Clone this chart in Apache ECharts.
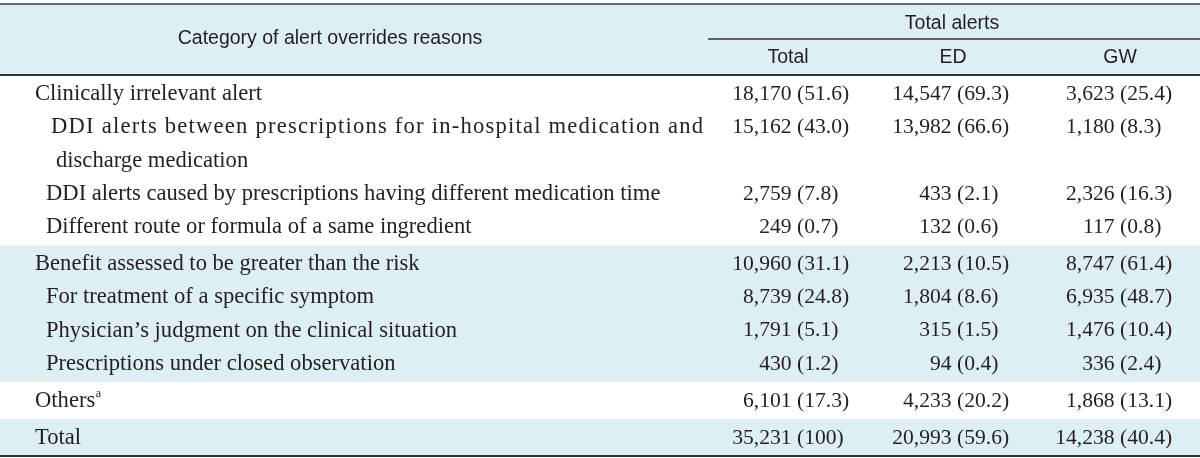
<!DOCTYPE html>
<html><head><meta charset="utf-8">
<script src="https://cdn.jsdelivr.net/npm/echarts@6/dist/echarts.min.js"></script>
<style>html,body{margin:0;padding:0;background:#fff}#c{width:1200px;height:458px}</style>
</head><body><div id="c"></div>
<script>
// ================= DATA =================
const stubHeader = 'Category of alert overrides reasons';
const spanHeader = 'Total alerts';
const columns = ['Total', 'ED', 'GW'];
const categories = [
  'Clinically irrelevant alert',
  'DDI alerts between prescriptions for in-hospital medication and\ndischarge medication',
  'DDI alerts caused by prescriptions having different medication time',
  'Different route or formula of a same ingredient',
  'Benefit assessed to be greater than the risk',
  'For treatment of a specific symptom',
  'Physician\u2019s judgment on the clinical situation',
  'Prescriptions under closed observation',
  'Others',
  'Total'
];
const footnoteMarks = ['', '', '', '', '', '', '', '', 'a', ''];
const totalCount = [18170, 15162, 2759, 249, 10960, 8739, 1791, 430, 6101, 35231];
const totalPct   = [51.6, 43.0, 7.8, 0.7, 31.1, 24.8, 5.1, 1.2, 17.3, 100];
const edCount    = [14547, 13982, 433, 132, 2213, 1804, 315, 94, 4233, 20993];
const edPct      = [69.3, 66.6, 2.1, 0.6, 10.5, 8.6, 1.5, 0.4, 20.2, 59.6];
const gwCount    = [3623, 1180, 2326, 117, 8747, 6935, 1476, 336, 1868, 14238];
const gwPct      = [25.4, 8.3, 16.3, 0.8, 61.4, 48.7, 10.4, 2.4, 13.1, 40.4];

// ================= LAYOUT / STYLE =================
const W = 1200, H = 458;
const SERIF = '"Liberation Serif", "Times New Roman", serif';
const SANS = '"Liberation Sans", Arial, sans-serif';
const LABEL_SIZE = 22.6, NUM_SIZE = 21.6, HEAD_SIZE = 19.5, SUP_SIZE = 12;
const INK = '#231f20';
const SHADE = '#ddeff2';
const ROW_LEVEL = [0, 1, 1, 1, 0, 1, 1, 1, 0, 0];
const GROUPS = [[0, 1, 2, 3], [4, 5, 6, 7], [8], [9]];
const SHADED_GROUPS = [1, 3];
const INDENT = [35, 46];
const WRAP_FIRST = 5, WRAP_NEXT = 10;
const STUB_RIGHT = 703;
const STUB_CENTER = 330;
const PAREN_X = [797, 957, 1120];
const COL_CENTER = [788, 953, 1120];
const SPAN_X = [708, W];
const HEADER_TOP = 4, HEADER_MID = 39, HEADER_BOTTOM = 75;
const LINE_H = 33.3, PAD_TOP = 19, PAD_BOTTOM = 18;

const countsByCol = [totalCount, edCount, gwCount];
const pctByCol = [totalPct, edPct, gwPct];

const mctx = document.createElement('canvas').getContext('2d');
function measure(t, size, fam) { mctx.font = size + 'px ' + fam; return mctx.measureText(t).width; }
const fmtN = n => n.toLocaleString('en-US');
const fmtP = p => p === 100 ? '100' : p.toFixed(1);

// vertical layout from group structure
const rowY = [];
const groupSpan = [];
let yCur = HEADER_BOTTOM;
GROUPS.forEach(g => {
  const top = yCur;
  let c = top + PAD_TOP;
  g.forEach(r => {
    rowY[r] = [];
    categories[r].split('\n').forEach(() => { rowY[r].push(c); c += LINE_H; });
  });
  const bottom = c - LINE_H + PAD_BOTTOM;
  groupSpan.push([top, bottom]);
  yCur = bottom;
});
const TABLE_BOTTOM = yCur;

const shadeData = [[HEADER_TOP, HEADER_BOTTOM]].concat(SHADED_GROUPS.map(g => groupSpan[g]));
const RULES = [
  { x0: 0, x1: W, y: HEADER_TOP, w: 1.8, c: '#6b6b6b' },
  { x0: SPAN_X[0], x1: SPAN_X[1], y: HEADER_MID, w: 1.5, c: '#333' },
  { x0: 0, x1: W, y: HEADER_BOTTOM, w: 2, c: '#333' },
  { x0: 0, x1: W, y: TABLE_BOTTOM, w: 2, c: '#333' }
];

const cellData = [];
columns.forEach((c, ci) => categories.forEach((_, ri) => cellData.push([ci, ri, countsByCol[ci][ri], pctByCol[ci][ri]])));

function txt(x, y, text, size, fam, align) {
  return { type: 'text', x: x, y: y, silent: true,
    style: { text: text, fontSize: size, fontFamily: fam, fill: INK, align: align || 'left', verticalAlign: 'middle' } };
}

const chart = echarts.init(document.getElementById('c'), null, { renderer: 'canvas' });
chart.setOption({
  animation: false,
  grid: { left: 0, right: 0, top: 0, bottom: 0 },
  xAxis: { type: 'value', min: 0, max: W, show: false },
  yAxis: { type: 'value', min: 0, max: H, inverse: true, show: false },
  series: [
    { type: 'custom', name: 'shade', coordinateSystem: 'cartesian2d', silent: true, z: 1,
      data: shadeData.map(s => [0, s[0], s[1]]),
      renderItem: (p, api) => {
        const a = api.coord([0, api.value(1)]), b = api.coord([W, api.value(2)]);
        return { type: 'rect', shape: { x: a[0], y: a[1], width: b[0] - a[0], height: b[1] - a[1] }, style: { fill: SHADE } };
      } },
    { type: 'custom', name: 'rules', coordinateSystem: 'cartesian2d', silent: true, z: 3,
      data: RULES.map((r, i) => [r.x0, r.y, i]),
      renderItem: (p, api) => {
        const r = RULES[api.value(2)];
        const a = api.coord([r.x0, r.y]), b = api.coord([r.x1, r.y]);
        return { type: 'line', shape: { x1: a[0], y1: a[1], x2: b[0], y2: b[1] }, style: { stroke: r.c, lineWidth: r.w } };
      } },
    { type: 'custom', name: 'header', coordinateSystem: 'cartesian2d', silent: true, z: 4,
      data: [[0, 0]],
      renderItem: (p, api) => {
        const ch = [];
        let pt = api.coord([STUB_CENTER, (HEADER_TOP + HEADER_MID + HEADER_BOTTOM) / 3 - 1]);
        ch.push(txt(pt[0], pt[1], stubHeader, HEAD_SIZE, SANS, 'center'));
        pt = api.coord([(SPAN_X[0] + SPAN_X[1]) / 2 - 2, (HEADER_TOP + HEADER_MID) / 2 + 2]);
        ch.push(txt(pt[0], pt[1], spanHeader, HEAD_SIZE, SANS, 'center'));
        columns.forEach((c, i) => {
          const q = api.coord([COL_CENTER[i], (HEADER_MID + HEADER_BOTTOM) / 2 + 1]);
          ch.push(txt(q[0], q[1], c, HEAD_SIZE, SANS, 'center'));
        });
        return { type: 'group', children: ch };
      } },
    { type: 'custom', name: 'stub', coordinateSystem: 'cartesian2d', silent: true, z: 4,
      data: categories.map((c, i) => [0, i]),
      renderItem: (p, api) => {
        const r = api.value(1);
        const lines = categories[r].split('\n');
        const base = INDENT[ROW_LEVEL[r]];
        const ch = [];
        lines.forEach((line, k) => {
          const wrapped = lines.length > 1;
          const x0 = base + (wrapped ? (k === 0 ? WRAP_FIRST : WRAP_NEXT) : 0);
          const pt = api.coord([x0, rowY[r][k]]);
          if (wrapped && k < lines.length - 1) {
            const target = api.coord([STUB_RIGHT, 0])[0] - pt[0];
            const nat = measure(line, LABEL_SIZE, SERIF);
            const extra = (target - nat) / (line.length - 1);
            for (let j = 0; j < line.length; j++) {
              const off = measure(line.slice(0, j), LABEL_SIZE, SERIF) + extra * j;
              if (line[j] !== ' ') ch.push(txt(pt[0] + off, pt[1], line[j], LABEL_SIZE, SERIF, 'left'));
            }
          } else {
            ch.push(txt(pt[0], pt[1], line, LABEL_SIZE, SERIF, 'left'));
            if (footnoteMarks[r]) {
              const w = measure(line, LABEL_SIZE, SERIF);
              ch.push(txt(pt[0] + w + 0.5, pt[1] - 7, footnoteMarks[r], SUP_SIZE, SERIF, 'left'));
            }
          }
        });
        return { type: 'group', children: ch };
      } },
    { type: 'custom', name: 'cells', coordinateSystem: 'cartesian2d', silent: true, z: 4,
      data: cellData,
      renderItem: (p, api) => {
        const ci = api.value(0), r = api.value(1), n = api.value(2), pc = api.value(3);
        const pt = api.coord([PAREN_X[ci], rowY[r][0]]);
        const sp = measure(' ', NUM_SIZE, SERIF);
        return { type: 'group', children: [
          txt(pt[0] - sp, pt[1], fmtN(n), NUM_SIZE, SERIF, 'right'),
          txt(pt[0], pt[1], '(' + fmtP(pc) + ')', NUM_SIZE, SERIF, 'left')
        ] };
      } }
  ]
});
</script></body></html>
